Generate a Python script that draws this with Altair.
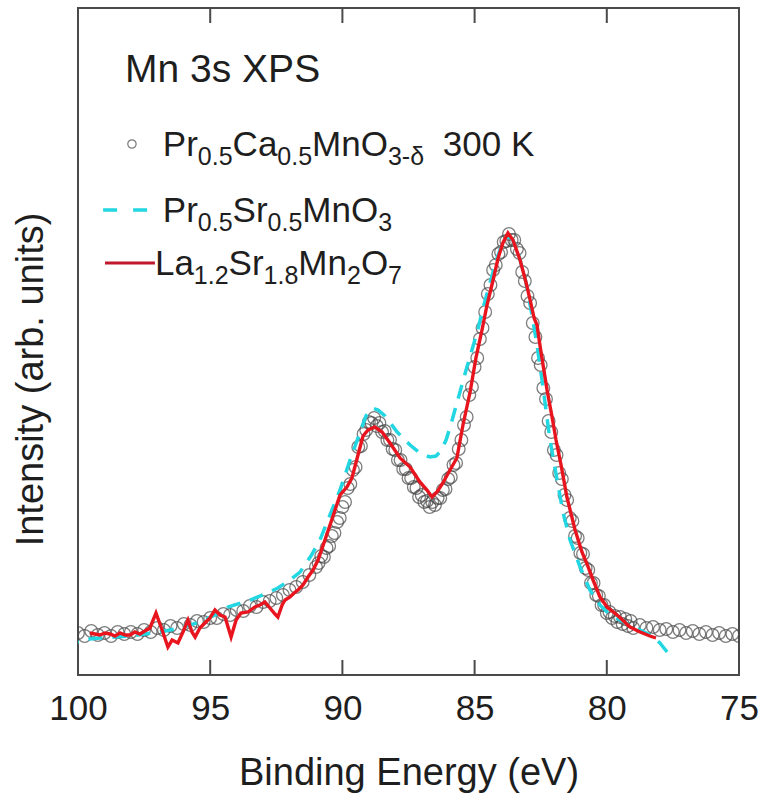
import altair as alt
import pandas as pd

# ---------------- data ----------------
# Pr0.5Ca0.5MnO3-d, 300 K (open circles)
pcmo_energy = [100 - 0.25 * i for i in range(37)] + \
              [round(90.9 - 0.1 * i, 2) for i in range(120)] + \
              [78.75 - 0.25 * i for i in range(16)]
pcmo_intensity = [
    42, 39, 44, 40, 42, 39, 43, 41, 43, 41, 45, 43, 47, 45, 49, 47, 51, 50, 54, 53,
    57, 57, 61, 60, 65, 64, 69, 68, 73, 74, 77, 80, 85, 88, 93, 100, 108,
    112, 119, 118, 127, 129, 139, 142, 153, 157, 168,
    173, 187, 191, 205, 208, 228, 229, 241, 245, 253,
    252, 257, 249, 252, 243, 244, 235, 235, 226, 225,
    215, 215, 206, 206, 197, 197, 188, 187, 178, 180,
    173, 174, 168, 173, 170, 177, 177, 185, 186, 196,
    198, 210, 212, 226, 235, 250, 258, 280, 288, 308,
    317, 336, 347, 363, 381, 390, 405, 410, 421, 423,
    433, 434, 441, 435, 435, 426, 422, 403, 394, 379,
    372, 352, 338, 317, 310, 287, 276, 254, 243, 225,
    220, 202, 196, 180, 175, 157, 154, 139, 137, 122,
    121, 107, 105, 92, 92, 80, 79, 70, 70, 62,
    63, 57, 59, 53, 58, 51, 56, 49, 54, 47,
    50, 47, 48, 45, 46, 43, 45, 42, 44, 41, 43, 40, 42, 39, 41, 39,
]

# Pr0.5Sr0.5MnO3 (cyan dashed)
psmo_energy = [100.0, 99.55, 99.17, 98.60, 98.03, 97.47, 96.90, 96.14, 95.39, 94.82,
               94.33, 93.49, 92.93, 92.44, 91.98, 91.60, 91.19, 90.85, 90.47, 90.09,
               89.71, 89.33, 89.11, 88.88, 88.65, 88.39, 87.93, 87.44, 87.07, 86.69,
               86.46, 86.27, 86.08, 85.90, 85.67, 85.29, 84.91, 84.68, 84.42, 84.15,
               83.93, 83.74, 83.55, 83.36, 83.06, 82.83, 82.64, 82.45, 82.30, 82.15,
               81.88, 81.66, 81.39, 81.01, 80.64, 80.26, 79.88, 79.50, 79.12, 78.74,
               78.37, 77.99, 77.72]
psmo_intensity = [33, 36, 37, 38, 39, 41, 43, 47, 53, 60,
                  68, 75, 81, 87, 95, 103, 119, 135, 160, 185,
                  215, 243, 259, 267, 265, 259, 243, 230, 222, 218,
                  219, 224, 235, 250, 272, 308, 342, 367, 392, 417,
                  433, 439, 435, 423, 393, 360, 330, 295, 265, 235,
                  195, 163, 135, 108, 85, 70, 60, 55, 50, 45,
                  40, 32, 23]

# La1.2Sr1.8Mn2O7 (red solid)
lsmo_energy = [99.55, 99.36, 99.17, 98.98, 98.79, 98.60, 98.41, 98.22, 98.03, 97.85,
               97.66, 97.47, 97.28, 97.05, 96.82, 96.60, 96.44, 96.22, 96.03, 95.84,
               95.69, 95.57, 95.39, 95.20, 95.01, 94.82, 94.63, 94.44, 94.21, 94.02,
               93.84, 93.57, 93.31, 93.12, 92.93, 92.74, 92.55, 92.44, 92.28, 92.17,
               91.98, 91.83, 91.68, 91.49, 91.30, 91.11, 90.92, 90.66, 90.43, 90.09,
               89.83, 89.64, 89.41, 89.22, 89.03, 88.77, 88.50, 88.20, 87.82, 87.44,
               87.07, 86.80, 86.61, 86.42, 86.20, 85.93, 85.67, 85.44, 85.17, 84.95,
               84.72, 84.53, 84.30, 84.11, 83.93, 83.74, 83.55, 83.28, 83.06, 82.90,
               82.75, 82.64, 82.53, 82.38, 82.26, 82.07, 81.92, 81.73, 81.51, 81.20,
               80.94, 80.75, 80.52, 80.26, 79.99, 79.61, 79.12, 78.74, 78.37, 78.14]
lsmo_intensity = [42, 41, 40, 42, 41, 39, 42, 40, 40, 43,
                  41, 44, 47, 62, 45, 28, 35, 32, 43, 55,
                  43, 38, 47, 52, 57, 65, 60, 58, 38, 55,
                  62, 63, 68, 70, 73, 67, 61, 58, 70, 75,
                  78, 82, 85, 90, 98, 105, 115, 135, 153, 180,
                  188, 197, 220, 239, 245, 248, 243, 232, 217, 208,
                  193, 185, 178, 183, 192, 205, 217, 250, 283, 317,
                  345, 370, 395, 417, 432, 442, 435, 415, 393, 375,
                  357, 350, 330, 305, 285, 258, 235, 210, 178, 145,
                  123, 111, 95, 78, 68, 60, 48, 43, 39, 37]

x_ticks = [100, 95, 90, 85, 80, 75]

# ---------------- layout ----------------
W, H = 661, 667
E_MAX, E_MIN = 100, 75
I_MAX = 667
PX_PER_EV = W / (E_MAX - E_MIN)
FRAME = "#4a4a4a"
TXT = "#1e1e1e"
FONT = "Liberation Sans"
CYAN = "#22d6e2"
RED = "#e8141e"

xs = alt.Scale(domain=[E_MAX, E_MIN], nice=False, zero=False)
ys = alt.Scale(domain=[0, I_MAX], nice=False, zero=False)

x_axis = alt.Axis(values=x_ticks, format="d", ticks=False, tickSize=0, domain=False, grid=False,
                  labelFontSize=35, labelFont=FONT, labelColor=TXT, labelBaseline="alphabetic",
                  labelPadding=44, labelFlush=False,
                  title="Binding Energy (eV)", titleFontSize=38, titleFont=FONT, titleColor=TXT,
                  titleFontWeight="normal", titleBaseline="alphabetic", titleY=109)
y_axis = alt.Axis(labels=False, ticks=False, domain=False, grid=False,
                  title="Intensity (arb. units)", titleFontSize=38, titleFont=FONT, titleColor=TXT,
                  titleFontWeight="normal", titleBaseline="alphabetic", titleX=-36, titleY=371,
                  titleAngle=-90)


def X(field):
    return alt.X(field, type="quantitative", scale=xs, axis=x_axis)


def Y(field):
    return alt.Y(field, type="quantitative", scale=ys, axis=y_axis)


pcmo = pd.DataFrame({"e": pcmo_energy, "i": pcmo_intensity})
psmo = pd.DataFrame({"e": psmo_energy, "i": psmo_intensity})
lsmo = pd.DataFrame({"e": lsmo_energy, "i": lsmo_intensity})
ticks = pd.DataFrame({"e": x_ticks})

circles = alt.Chart(pcmo).mark_point(shape="circle", filled=False, size=160, stroke="#474747",
                                     strokeWidth=1.3, clip=True).encode(x=X("e"), y=Y("i"))
cyan = alt.Chart(psmo).mark_line(color=CYAN, strokeWidth=3.5, strokeDash=[14, 10],
                                 clip=True).encode(x=X("e"), y=Y("i"), order="e:Q")
red = alt.Chart(lsmo).mark_line(color=RED, strokeWidth=3.4, clip=True).encode(
    x=X("e"), y=Y("i"), order="e:Q")

tick_bottom = alt.Chart(ticks).mark_rule(color=FRAME, strokeWidth=2).encode(
    x=X("e"), y=alt.datum(0, scale=ys), y2=alt.datum(15))
tick_top = alt.Chart(ticks).mark_rule(color=FRAME, strokeWidth=2).encode(
    x=X("e"), y=alt.datum(I_MAX - 15, scale=ys), y2=alt.datum(I_MAX))

# ---------------- annotation / legend ----------------
WIDTHS = {"P": .667, "r": .333, "C": .722, "a": .556, "M": .833, "n": .556, "O": .778,
          "S": .667, "L": .556, ".": .278, "-": .333, " ": .278, "K": .667, "X": .667}


def tw(s, fs):
    return sum(WIDTHS.get(c, .556) for c in s) * fs


MAIN, SUB, SHIFT = 35, 25, 9
rows = [
    (96.79, 519, [("Pr", 0), ("0.5", 1), ("Ca", 0), ("0.5", 1), ("MnO", 0), ("3-δ", 1)]),
    (96.79, 453, [("Pr", 0), ("0.5", 1), ("Sr", 0), ("0.5", 1), ("MnO", 0), ("3", 1)]),
    (97.09, 400, [("La", 0), ("1.2", 1), ("Sr", 0), ("1.8", 1), ("Mn", 0), ("2", 1),
                  ("O", 0), ("7", 1)]),
]
segs = []
for e0, i0, parts in rows:
    cum = 0.0
    for s, sub in parts:
        fs = SUB if sub else MAIN
        segs.append({"t": s, "e": e0 - cum / PX_PER_EV, "i": i0 - (SHIFT if sub else 0), "fs": fs})
        cum += tw(s, fs)
segs.append({"t": "300 K", "e": 86.2, "i": 519, "fs": MAIN})
segs.append({"t": "Mn 3s XPS", "e": 98.22, "i": 593, "fs": 39})
seg_df = pd.DataFrame(segs)

texts = alt.Chart(seg_df).mark_text(align="left", baseline="alphabetic", font=FONT,
                                    color=TXT).encode(
    x=X("e"), y=Y("i"), text="t:N", size=alt.Size("fs:Q", scale=None))

leg_pt = alt.Chart(pd.DataFrame({"e": [97.96], "i": [531]})).mark_point(
    shape="circle", filled=False, size=70, stroke="#474747", strokeWidth=1.2).encode(
    x=X("e"), y=Y("i"))
leg_cyan = alt.Chart(pd.DataFrame({"e": [99.05, 97.35], "i": [465, 465]})).mark_line(
    color=CYAN, strokeWidth=3.5, strokeDash=[14, 16]).encode(x=X("e"), y=Y("i"))
leg_red = alt.Chart(pd.DataFrame({"e": [98.98, 97.09], "i": [412, 412]})).mark_line(
    color="#c0182a", strokeWidth=3.2).encode(x=X("e"), y=Y("i"))

chart = alt.layer(circles, cyan, red, tick_bottom, tick_top, texts, leg_pt, leg_cyan,
                  leg_red).properties(
    width=W, height=H,
    autosize=alt.AutoSizeParams(type="none"),
    padding={"left": 78, "top": 8, "right": 22, "bottom": 119},
    background="white",
).configure_view(stroke=FRAME, strokeWidth=2)

chart.save("out.html", embed_options={"renderer": "svg", "actions": False})
